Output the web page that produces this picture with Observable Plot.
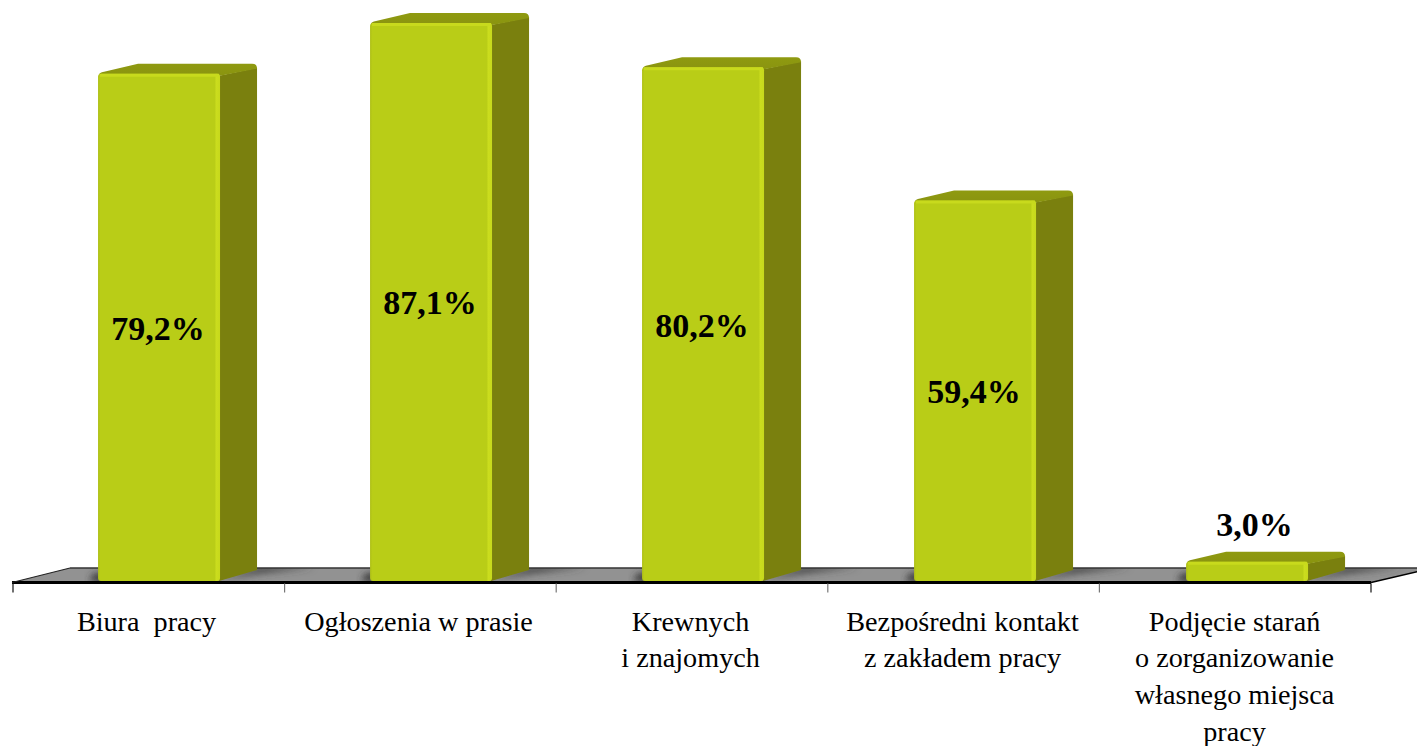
<!DOCTYPE html>
<html>
<head>
<meta charset="utf-8">
<script src="https://cdn.jsdelivr.net/npm/d3@7"></script>
<script src="https://cdn.jsdelivr.net/npm/@observablehq/plot@0.6"></script>
<style>
html,body{margin:0;padding:0;background:#fff;overflow:hidden}
svg{display:block}
svg text{white-space:pre}
</style>
</head>
<body>
<div id="chart"></div>
<script>
const categories = [
  "Biura  pracy",
  "Ogłoszenia w prasie",
  "Krewnych\ni znajomych",
  "Bezpośredni kontakt\nz zakładem pracy",
  "Podjęcie starań\no zorganizowanie\nwłasnego miejsca\npracy"
];
const values = [79.2, 87.1, 80.2, 59.4, 3.0];
const valueLabels = ["79,2%", "87,1%", "80,2%", "59,4%", "3,0%"];
const rows = categories.map((c, i) => ({c, v: values[i], t: valueLabels[i]}));

const depthX = 37, depthY = 11;
const FONT = "'Liberation Serif','Times New Roman',serif";

const defs = () => {
  const g = d3.create("svg:defs");
  const lg = g.append("linearGradient").attr("id", "front").attr("x1", 0).attr("x2", 1).attr("y1", 0).attr("y2", 0);
  [[0, "#aebf18"], [0.02, "#b9cd17"], [0.955, "#b9cd17"], [0.97, "#cbdd1e"], [1, "#c6d81c"]]
    .forEach(([o, c]) => lg.append("stop").attr("offset", o).attr("stop-color", c));
  const sd = g.append("linearGradient").attr("id", "top").attr("x1", 0).attr("x2", 0).attr("y1", 0).attr("y2", 1);
  [[0, "#8f9a10"], [1, "#8a9410"]].forEach(([o, c]) => sd.append("stop").attr("offset", o).attr("stop-color", c));
  g.append("filter").attr("id", "blur").attr("x", "-30%").attr("y", "-100%").attr("width", "160%").attr("height", "300%")
    .append("feGaussianBlur").attr("stdDeviation", 3.5);
  return g.node();
};

// floor plane drawn from the x scale's range and the y scale's zero
const floor = (index, {x, y}) => {
  const g = d3.create("svg:g");
  const [r0, r1] = x.range ? x.range() : [13, 1373];
  const b = y(0) + 1.5, t = b - 14.5;
  const pts = [[r0 - 1, b], [r0 + 57, t], [r1 + 60, t], [r1 - 2, b]];
  const clip = g.append("clipPath").attr("id", "floorclip");
  clip.append("polygon").attr("points", pts.join(" "));
  g.append("polygon").attr("points", pts.join(" ")).attr("fill", "#929292");
  const sh = g.append("g").attr("clip-path", "url(#floorclip)");
  categories.forEach(c => {
    const x0 = x(c), bw = x.bandwidth(), r = x0 + bw;
    // soft shadow left of the base and along the side face's foot
    sh.append("polygon")
      .attr("points", [[x0 - 9, b - 1], [x0 + 6, b - 1], [x0 + 6, b - 9], [x0 - 4, b - 9]].join(" "))
      .attr("fill", "#333").attr("filter", "url(#blur)");
    sh.append("polygon")
      .attr("points", [[r, b - 3], [r + depthX + 4, t - 1], [r + depthX + 58, t - 1], [r + depthX + 4, t + 5]].join(" "))
      .attr("fill", "#3c3c3c").attr("filter", "url(#blur)");
  });
  g.append("line").attr("x1", pts[0][0]).attr("y1", b).attr("x2", pts[3][0]).attr("y2", b)
    .attr("stroke", "#000").attr("stroke-width", 3);
  g.append("line").attr("x1", pts[0][0]).attr("y1", b).attr("x2", pts[1][0]).attr("y2", t)
    .attr("stroke", "#222").attr("stroke-width", 1.2);
  g.append("line").attr("x1", pts[1][0]).attr("y1", t).attr("x2", pts[2][0]).attr("y2", t)
    .attr("stroke", "#333").attr("stroke-width", 1.4);
  g.append("line").attr("x1", pts[3][0]).attr("y1", b).attr("x2", pts[2][0]).attr("y2", t)
    .attr("stroke", "#000").attr("stroke-width", 1.5);
  // category boundary ticks
  d3.range(categories.length + 1).forEach(i => {
    const tx = r0 + i * (r1 - 2 - r0) / categories.length;
    g.append("line").attr("x1", tx).attr("x2", tx).attr("y1", b + 1).attr("y2", b + 10)
      .attr("stroke", (i === 0 || i === categories.length) ? "#111" : "#777").attr("stroke-width", 1.2);
  });
  return g.node();
};

// side and top faces of each bar, positioned through the scales
const faces = (index, {x, y}) => {
  const g = d3.create("svg:g");
  rows.forEach(d => {
    const l = x(d.c), r = l + x.bandwidth(), tp = y(d.v), bt = y(0);
    const rx = r + depthX, ty = tp - depthY;
    g.append("path")
      .attr("d", `M${r - 1},${bt} L${rx},${bt - depthY} L${rx},${ty + 5} L${r - 1},${tp + 2}Z`)
      .attr("fill", "#7a800e");
    g.append("path")
      .attr("d", `M${l + 1},${tp + 1} Q${l + 1},${tp - 1} ${l + 6},${tp - 2} L${l + depthX + 3},${ty + 1} L${rx - 5},${ty + 1} Q${rx},${ty + 1} ${rx},${ty + 6} L${r},${tp + 2}Z`)
      .attr("fill", "url(#top)");
  });
  return g.node();
};

const highlights = (index, {x, y}) => {
  const g = d3.create("svg:g");
  rows.forEach(d => {
    const l = x(d.c), r = l + x.bandwidth(), tp = y(d.v);
    g.append("line").attr("x1", l + 2).attr("x2", r - 1).attr("y1", tp + 1.5).attr("y2", tp + 1.5)
      .attr("stroke", "#c8da1d").attr("stroke-width", 3);
  });
  return g.node();
};

const chart = Plot.plot({
  width: 1417,
  height: 746,
  marginTop: 0,
  marginLeft: 0,
  marginRight: 0,
  marginBottom: 165,
  style: {background: "#fff", fontFamily: FONT},
  x: {type: "band", domain: categories, range: [13, 1373], paddingInner: 0.5515, paddingOuter: 0.2757, align: 0.567, round: false, axis: null, label: null},
  y: {domain: [0, 90.7], range: [581, 0], axis: null, label: null},
  marks: [
    defs,
    floor,
    faces,
    Plot.barY(rows, {x: "c", y: "v", fill: "url(#front)", rx: 3}),
    highlights,
    Plot.text(rows.filter(d => d.v >= 10), {
      x: "c", y: d => d.v / 2, text: "t",
      fontSize: 34, fontWeight: "bold", fontFamily: FONT, fill: "#000", dx: -1.5, dy: 1
    }),
    Plot.text(rows.filter(d => d.v < 10), {
      x: "c", y: "v", text: "t",
      fontSize: 34, fontWeight: "bold", fontFamily: FONT, fill: "#000", dx: 7, dy: -37
    }),
    Plot.axisX({
      anchor: "bottom", tickSize: 0, tickPadding: 23, dx: -13,
      fontSize: 28.2, fontFamily: FONT, fill: "#000", lineHeight: 1.3,
      lineWidth: Infinity, textOverflow: null, label: null
    })
  ]
});
document.getElementById("chart").append(chart);
</script>
</body>
</html>
